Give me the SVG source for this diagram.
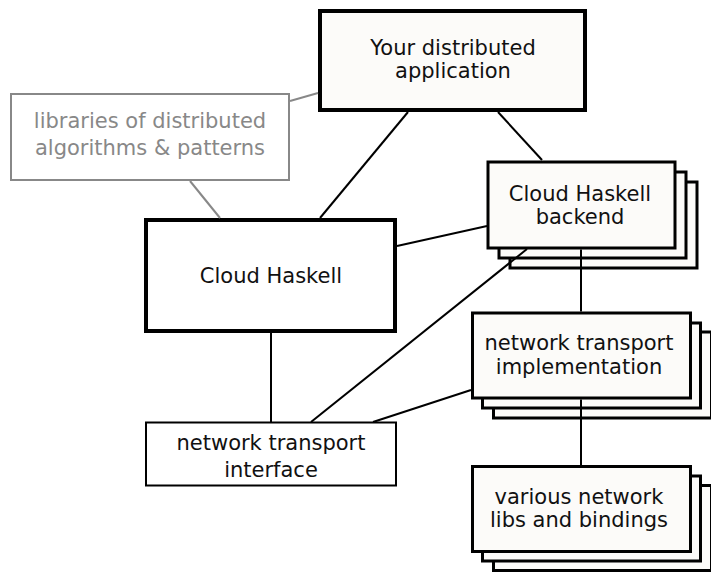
<svg xmlns="http://www.w3.org/2000/svg" width="711" height="573" viewBox="0 0 711 573">
<style>
text{font-family:"DejaVu Sans","Noto Sans",sans-serif;font-size:21px;fill:#111;text-anchor:middle}
.thick{fill:#fcfbf9;stroke:#000;stroke-width:4}
.plain{fill:#fff;stroke:#000;stroke-width:4}
.lib{fill:#fff;stroke:#888;stroke-width:2}
.lib-t{fill:#888}
.iface{fill:#fff;stroke:#000;stroke-width:2}
.stack{fill:#fcfbf9;stroke:#000;stroke-width:3}
.conn line{stroke:#000;stroke-width:2}
.conn line.g{stroke:#888}
</style>
<rect width="711" height="573" fill="#fff"/>
<g id="app">
<rect class="thick" x="320" y="11" width="265" height="99"/>
<text x="453" y="55">Your distributed</text>
<text x="453" y="78">application</text>
</g>
<g id="libs">
<rect class="lib" x="11" y="94" width="278" height="86"/>
<text class="lib-t" x="150" y="128">libraries of distributed</text>
<text class="lib-t" x="150" y="155">algorithms &amp; patterns</text>
</g>
<g id="cloudhaskell">
<rect class="plain" x="146" y="220" width="249" height="111"/>
<text x="271" y="283">Cloud Haskell</text>
</g>
<g id="backend">
<rect class="stack" x="510" y="182" width="187" height="86"/>
<rect class="stack" x="499" y="172" width="187" height="86"/>
<rect class="stack" x="488" y="162" width="187" height="86"/>
<text x="580" y="201">Cloud Haskell</text>
<text x="580" y="224">backend</text>
</g>
<g id="iface">
<rect class="iface" x="146" y="422.5" width="250" height="63"/>
<text x="271" y="450">network transport</text>
<text x="271" y="477">interface</text>
</g>
<g id="impl">
<rect class="stack" x="493.5" y="332" width="218" height="86"/>
<rect class="stack" x="482.5" y="323" width="218" height="85"/>
<rect class="stack" x="472.5" y="313" width="218" height="85"/>
<text x="579" y="350">network transport</text>
<text x="579" y="374">implementation</text>
</g>
<g id="netlibs">
<rect class="stack" x="493.5" y="485.5" width="218" height="85"/>
<rect class="stack" x="482.5" y="476" width="218" height="85"/>
<rect class="stack" x="472.5" y="466.5" width="218" height="85"/>
<text x="579" y="504">various network</text>
<text x="579" y="527">libs and bindings</text>
</g>
<g id="connectors" class="conn">
<line x1="408" y1="112" x2="320" y2="218"/>
<line x1="498" y1="112" x2="542" y2="160"/>
<line class="g" x1="290" y1="101" x2="318" y2="93"/>
<line class="g" x1="190" y1="181" x2="220" y2="218"/>
<line x1="397" y1="246" x2="487" y2="226"/>
<line x1="271" y1="332" x2="271" y2="422"/>
<line x1="311" y1="422" x2="527" y2="249"/>
<line x1="581" y1="249.5" x2="581" y2="311.5"/>
<line x1="373" y1="422" x2="471" y2="390"/>
<line x1="581" y1="399.5" x2="581" y2="465"/>
</g>
</svg>
